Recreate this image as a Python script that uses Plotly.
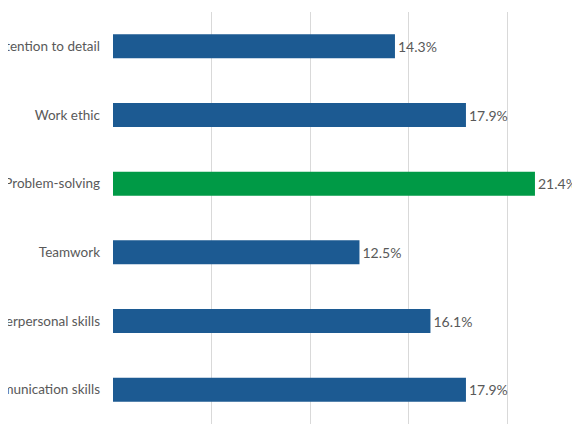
import plotly.graph_objects as go

skills = [
    "Attention to detail",
    "Work ethic",
    "Problem-solving",
    "Teamwork",
    "Interpersonal skills",
    "Communication skills",
]
shares = [14.3, 17.9, 21.4, 12.5, 16.1, 17.9]
highlight = "Problem-solving"

BLUE = "#1c5a92"
GREEN = "#009a46"
colors = [GREEN if s == highlight else BLUE for s in skills]

fig = go.Figure(
    go.Bar(
        x=shares,
        y=skills,
        orientation="h",
        width=0.35,
        marker=dict(color=colors, line=dict(width=0)),
        text=[f"{v:.1f}%" for v in shares],
        textposition="outside",
        textfont=dict(color="#595959", size=14),
        cliponaxis=False,
        constraintext="none",
    )
)

# the page has an 8px body margin, so the plot area is offset to match
fig.update_layout(
    width=580,
    height=435,
    margin=dict(l=105, r=0, t=4, b=19),
    plot_bgcolor="white",
    paper_bgcolor="white",
    font=dict(family="Lato, Open Sans, sans-serif", size=14, color="#595959"),
    showlegend=False,
)
fig.update_xaxes(
    range=[0, 24.09],
    dtick=5,
    showticklabels=False,
    showgrid=True,
    gridcolor="#d9d9d9",
    gridwidth=1,
    zeroline=False,
    showline=False,
)
fig.update_yaxes(
    categoryorder="array",
    categoryarray=skills,
    autorange="reversed",
    showgrid=False,
    showline=False,
    ticks="",
    ticklabelstandoff=12,
    automargin=False,
    tickfont=dict(size=13.5, color="#595959"),
)

fig.write_html("out.html")
